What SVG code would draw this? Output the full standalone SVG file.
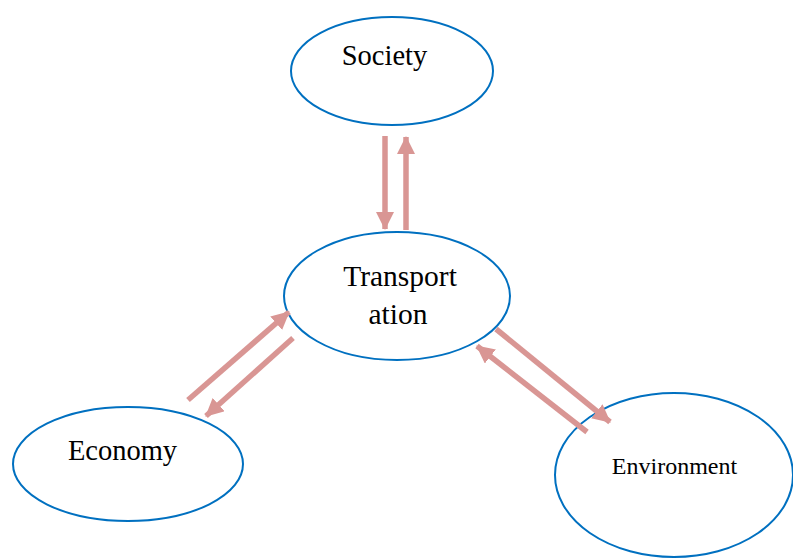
<svg xmlns="http://www.w3.org/2000/svg" width="793" height="558" viewBox="0 0 793 558">
<style>
.node{fill:#ffffff;stroke:#0070c0;stroke-width:2}
.lbl{font-family:"Liberation Serif","Times New Roman",serif;fill:#000;text-anchor:middle}
.arr{stroke:#d99694;stroke-width:5.5;fill:none;marker-end:url(#ah)}
</style>
<defs>
<marker id="ah" markerUnits="userSpaceOnUse" markerWidth="18" markerHeight="18" viewBox="0 0 18 18" refX="17" refY="9" orient="auto">
<path d="M0,0 L18,9 L0,18 Z" fill="#d99694"/>
</marker>
</defs>
<rect width="793" height="558" fill="#ffffff"/>
<g id="society">
<ellipse class="node" cx="392" cy="71" rx="101" ry="54"/>
<text class="lbl" x="384.5" y="65" font-size="28.5">Society</text>
</g>
<g id="transportation">
<ellipse class="node" cx="397" cy="296" rx="113" ry="64"/>
<text class="lbl" x="400" y="286" font-size="29.5">Transport</text>
<text class="lbl" x="398" y="324" font-size="29.5">ation</text>
</g>
<g id="economy">
<ellipse class="node" cx="128" cy="464" rx="115" ry="57"/>
<text class="lbl" x="122.5" y="460" font-size="28.5">Economy</text>
</g>
<g id="environment">
<ellipse class="node" cx="674" cy="475" rx="119" ry="82"/>
<text class="lbl" x="674.5" y="474" font-size="24">Environment</text>
</g>
<g id="connectors">
<line class="arr" x1="385" y1="136" x2="385" y2="229"/>
<line class="arr" x1="406" y1="230" x2="406" y2="137"/>
<line class="arr" x1="188" y1="400" x2="289" y2="312"/>
<line class="arr" x1="293" y1="338" x2="206" y2="416"/>
<line class="arr" x1="496" y1="329" x2="610" y2="422"/>
<line class="arr" x1="587" y1="432" x2="477" y2="346"/>
</g>
</svg>
